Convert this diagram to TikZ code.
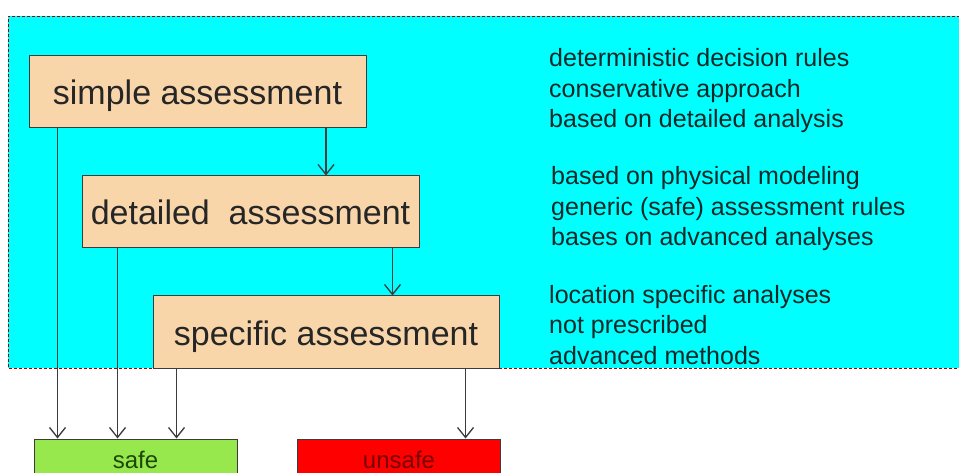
\documentclass[tikz,border=0pt]{standalone}
\usepackage{fontspec}
\setmainfont{Liberation Sans}
\usetikzlibrary{
  arrows.meta,
  positioning,
  calc,
  }
\definecolor{bgcyan}{RGB}{0,255,255}
\definecolor{boxtan}{RGB}{249,214,170}
\definecolor{safegreen}{RGB}{150,232,76}
\definecolor{unsafered}{RGB}{255,0,0}
\definecolor{edgegray}{RGB}{60,60,60}
\definecolor{noteblack}{RGB}{16,40,40}

\tikzset{
  assess/.style={rectangle, draw=edgegray, line width=1pt, fill=boxtan,
    minimum height=72pt, inner sep=0pt, text=black!85,
    text height=29pt, text depth=3pt,
    font=\fontsize{34}{40}\selectfont},
  verdict/.style={rectangle, draw=edgegray, line width=1pt,
    minimum width=203pt, minimum height=41pt, inner sep=0pt,
    font=\fontsize{24}{29}\selectfont},
  note/.style={anchor=base west, align=left, inner sep=0pt, text=noteblack,
    font=\fontsize{25}{30.5}\selectfont},
  conn/.style={draw=edgegray, line width=1.3pt,
    -{Straight Barb[length=10pt,width=16pt,line width=1.3pt]}},
}

\begin{document}
\begin{tikzpicture}[x=1pt, y=-1pt]
\useasboundingbox (0,0) rectangle (959,473);
\clip (0,0) rectangle (959,473);
% background area
\fill[bgcyan] (8,16) rectangle (970,368);
\draw[red!60!black, dashed, line width=0.9pt, dash pattern=on 3pt off 2pt]
  (970,16) -- (8,16) -- (8,368) -- (970,368);

% assessment steps
\node[assess, minimum width=337pt] (simple) at (197.5,92) {simple assessment};
\node[assess, minimum width=337pt] (detailed) at (250.5,212) {detailed\ \ assessment};
\node[assess, minimum width=346pt] (specific) at (326,332) {specific assessment};

% verdicts
\node[verdict, fill=safegreen, text={rgb,255:red,30;green,70;blue,10}] (safe) at (135.5,459.5) {safe};
\node[verdict, fill=unsafered, text={rgb,255:red,120;green,0;blue,0}] (unsafe) at (399,459.5) {unsafe};

% notes (base = last line)
\node[note] (notes1) at (549,128) {deterministic decision rules\\conservative approach\\based on detailed analysis};
\node[note] (notes2) at (551,246) {based on physical modeling\\generic (safe) assessment rules\\bases on advanced analyses};
\node[note] (notes3) at (549,364) {location specific analyses\\not prescribed\\advanced methods};

% connectors
\draw[conn] ([xshift=29pt]simple.south west) -- ([xshift=29pt]simple.south west |- safe.north);
\draw[conn] ([xshift=128.5pt]simple.south) -- ([xshift=128.5pt]simple.south |- detailed.north);
\draw[conn] ([xshift=36pt]detailed.south west) -- ([xshift=36pt]detailed.south west |- safe.north);
\draw[conn] ([xshift=-27pt]detailed.south east) -- ([xshift=-27pt]detailed.south east |- specific.north);
\draw[conn] ([xshift=24pt]specific.south west) -- ([xshift=24pt]specific.south west |- safe.north);
\draw[conn] ([xshift=-34pt]specific.south east) -- ([xshift=-34pt]specific.south east |- unsafe.north);
\end{tikzpicture}
\end{document}
